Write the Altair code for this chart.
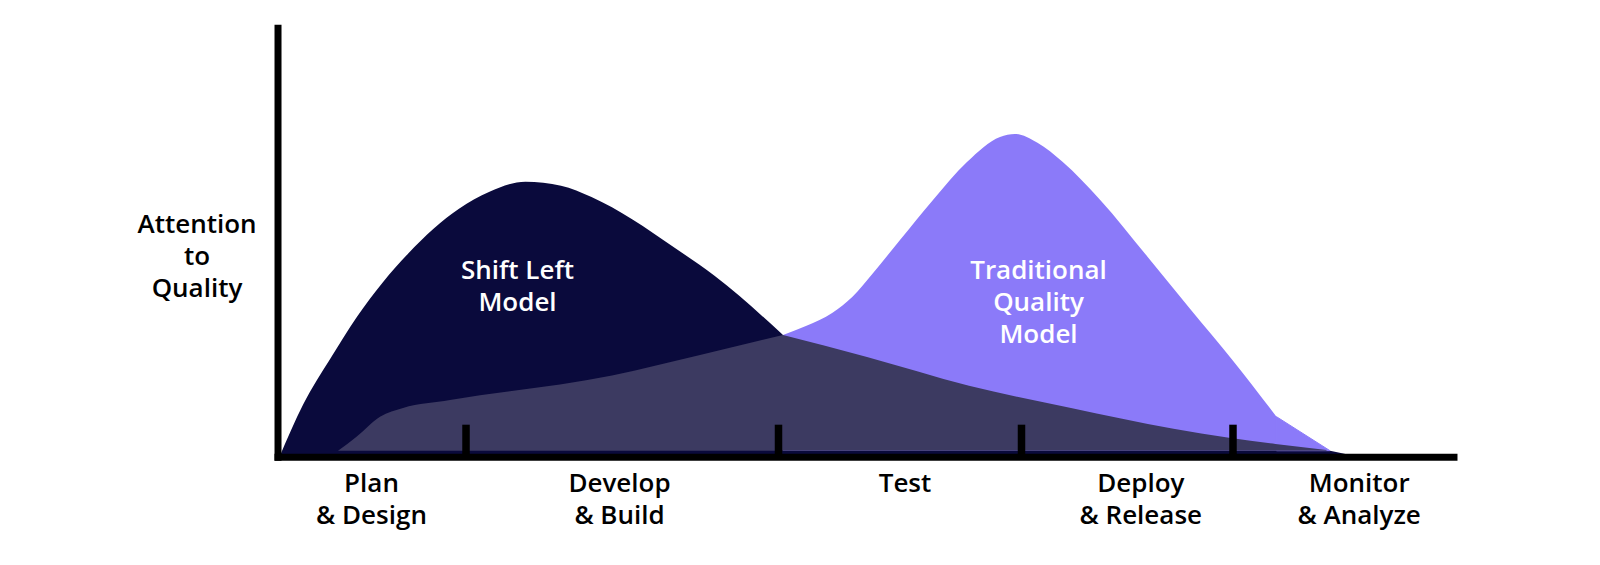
import altair as alt
import pandas as pd

# ---- data (chart units: x = progress through lifecycle, y = attention) ----
shift_x = [2, 25.5, 54, 79.5, 105, 130.5, 156, 181.5, 212, 248, 283.5, 314, 355, 396, 437, 505.5,
           589.5, 691.5, 793.5, 896, 951.5, 998, 1049, 1080]
shift_y = [0, 52, 100, 140, 174, 203, 228, 248, 265, 275, 271, 259.7, 237.3, 209.7, 181, 121.7,
           99.7, 71, 48.7, 28, 19, 12.7, 6.7, 0]

trad_x = [60.5, 79, 102.5, 125.5, 172.5, 334.5, 422.5, 505.5, 529, 555, 575, 595, 622.5, 655.5, 689.5,
          722.5, 737.5, 760, 785, 822.5, 870, 912.5, 955.5, 999, 1052.5]
trad_y = [6, 20, 40, 48.7, 56.7, 81.2, 101.7, 121.7, 131, 144, 160, 183, 216.7, 256.7, 294.7,
          319.7, 322.7, 314, 295, 257, 200, 148, 96, 40, 6]

cross_x = 505.5     # where the two curves meet
knee_x = 999        # corner near the end of the traditional curve
trad_base = 6

stage_labels = ["Plan\n& Design", "Develop\n& Build", "Test", "Deploy\n& Release", "Monitor\n& Analyze"]
stage_pos = [94, 342, 627.5, 863.3, 1081.7]
stage_ticks = [188.5, 501, 744, 955.5]
tick_len = 32

NAVY = "#0a0a3c"
PURPLE = "#8b7af9"
OVERLAP = "#3c3a61"
FONT = "Open Sans"
FS = 26

W, H = 1176, 429

shift = pd.DataFrame({"x": shift_x, "y": shift_y})
trad = pd.DataFrame({"x": trad_x, "y": trad_y})

shift_left = shift[shift.x <= cross_x]
shift_tail = shift[shift.x >= cross_x]
trad_left = trad[trad.x <= cross_x]
trad_hump = trad[(trad.x >= cross_x) & (trad.x <= knee_x)]
trad_foot = trad[trad.x >= knee_x]
shift_tail_over = shift_tail[shift_tail.y >= trad_base]

xs = alt.Scale(domain=[0, W])
ys = alt.Scale(domain=[0, H])

X = alt.X("x:Q", scale=xs, axis=alt.Axis(title=None, labels=False, ticks=False, grid=False,
                                         domainColor="black", domainWidth=7, domainCap="square", zindex=1))
Y = alt.Y("y:Q", scale=ys, axis=alt.Axis(title=None, labels=False, ticks=False, grid=False,
                                         domainColor="black", domainWidth=7, domainCap="square", zindex=1))


def area(df, color, base, interp="monotone", stroke=True):
    kw = dict(color=color, interpolate=interp, opacity=1)
    if stroke:
        kw.update(stroke=color, strokeWidth=1)
    return alt.Chart(df).mark_area(**kw).encode(
        x=X, y=Y, y2=alt.Y2("b:Q")
    ).transform_calculate(b=str(base))


layers = [
    area(shift_left, NAVY, 0, stroke=False),
    area(shift_tail, NAVY, 0, stroke=False),
    area(trad_hump, PURPLE, trad_base, stroke=False),
    area(trad_foot, PURPLE, trad_base, "linear"),
    area(trad_left, OVERLAP, trad_base, stroke=False),
    area(shift_tail_over, OVERLAP, trad_base, stroke=False),
]

ticks_df = pd.DataFrame({"x": stage_ticks, "y": [0] * len(stage_ticks), "y2": [tick_len] * len(stage_ticks)})
layers.append(
    alt.Chart(ticks_df).mark_rule(color="black", strokeWidth=7.5, strokeCap="butt").encode(
        x=alt.X("x:Q", scale=xs), y=alt.Y("y:Q", scale=ys), y2="y2:Q")
)

labels_df = pd.DataFrame({"x": stage_pos, "t": stage_labels})
layers.append(
    alt.Chart(labels_df).mark_text(font=FONT, fontSize=FS, fontWeight=600, color="black",
                                   lineBreak="\n", lineHeight=31.6, baseline="top", align="center").encode(
        x=alt.X("x:Q", scale=xs), y=alt.value(443.5), text="t:N")
)

notes_df = pd.DataFrame({"x": [240, 761], "t": ["Shift Left\nModel", "Traditional\nQuality\nModel"],
                         "yy": [243.5, 243.3]})
layers.append(
    alt.Chart(notes_df).mark_text(font=FONT, fontSize=FS, fontWeight=600, color="white",
                                  lineBreak="\n", lineHeight=32.2, baseline="middle", align="center").encode(
        x=alt.X("x:Q", scale=xs), y=alt.Y("yy:Q", scale=None), text="t:N")
)

title_df = pd.DataFrame({"t": ["Attention\nto\nQuality"]})
layers.append(
    alt.Chart(title_df).mark_text(font=FONT, fontSize=FS, fontWeight=600, color="black",
                                  lineBreak="\n", lineHeight=32.1, baseline="middle", align="center").encode(
        x=alt.value(-80.5), y=alt.value(197), text="t:N")
)

chart = alt.layer(*layers).properties(
    width=W, height=H,
    autosize=alt.AutoSizeParams(type="none"),
    padding={"left": 269.5, "top": 19.7, "right": 138, "bottom": 100},
    background="white",
).configure_view(stroke=None)

chart.save("out.html", embed_options={"renderer": "svg", "actions": False})
